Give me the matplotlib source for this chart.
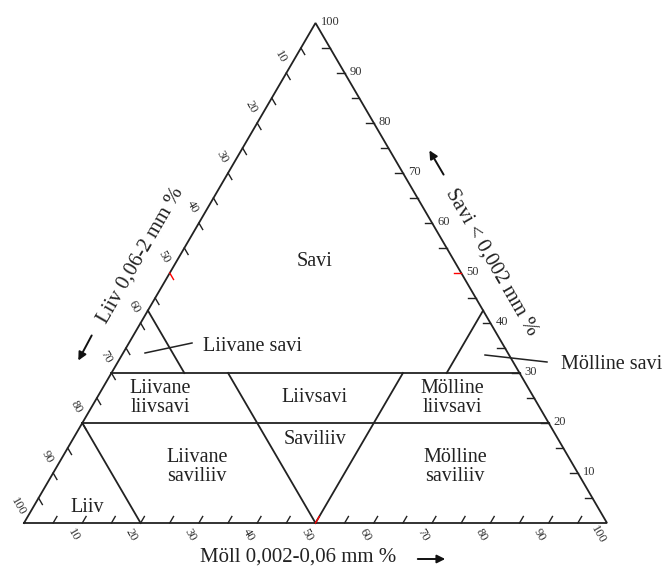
import matplotlib.pyplot as plt

plt.rcParams['font.family'] = ['Liberation Serif', 'DejaVu Serif']

# ticks (every 5) and labels (every 10) on all three sides
tick_vals = list(range(5, 100, 5))
label_vals = list(range(10, 101, 10))

# class boundaries, given as (Möll %, Savi %) end points
bound_savi30 = [(0, 30), (70, 30)]
bound_savi20 = [(0, 20), (80, 20)]
bound_liiv80 = [(20, 0), (0, 20)]
bound_liiv50 = [(50, 0), (20, 30)]
bound_moll50 = [(50, 0), (50, 30)]
bound_liiv575 = [(0, 42.5), (12.5, 30)]
bound_moll575 = [(57.5, 42.5), (57.5, 30)]
boundaries = [bound_savi30, bound_savi20, bound_liiv80, bound_liiv50,
              bound_moll50, bound_liiv575, bound_moll575]

# class names and where they sit (pixel positions in the 669x567 picture)
class_names = ['Savi', 'Liivane savi', 'Mölline savi', 'Liivane\nliivsavi', 'Liivsavi',
               'Mölline\nliivsavi', 'Saviliiv', 'Liiv', 'Liivane\nsaviliiv', 'Mölline\nsaviliiv']
class_pos = [(315, 262), (253, 347), (612, 365), (160, 398), (315, 398),
             (452, 398), (315, 440), (87, 508), (197, 467), (455, 467)]

# pixel mapping of the figure: left corner x, base y, px per unit
X0, YB, XS, YS = 24, 523, 5.83, 5.0


def tern(m, c):
    # Möll / Savi -> plot coordinates
    return m + c / 2.0, c


def px(x, y):
    # picture pixel -> plot coordinates
    return (x - X0) / XS, (YB - y) / YS


fig = plt.figure(figsize=(6.69, 5.67), dpi=100)
ax = fig.add_axes([0, 0, 1, 1])
ax.set_xlim(px(0, 0)[0], px(669, 0)[0])
ax.set_ylim(px(0, 567)[1], px(0, 0)[1])
ax.axis('off')

lw = 1.3
# outer triangle
corners = [tern(0, 0), tern(100, 0), tern(0, 100), tern(0, 0)]
ax.plot([p[0] for p in corners], [p[1] for p in corners], color='#222222', lw=lw,
        solid_joinstyle='miter')

for seg in boundaries:
    a, b = tern(*seg[0]), tern(*seg[1])
    ax.plot([a[0], b[0]], [a[1], b[1]], color='#222222', lw=lw)

# ticks
t = 1.3
for v in tick_vals:
    col = 'red' if v == 50 else '#222222'
    # bottom (Möll)
    a, b = tern(v, 0), tern(v, t)
    ax.plot([a[0], b[0]], [a[1], b[1]], color=col, lw=1.0)
    # left (Liiv)
    a, b = tern(0, 100 - v), tern(t, 100 - v - t)
    ax.plot([a[0], b[0]], [a[1], b[1]], color=col, lw=1.0)
    # right (Savi)
    a, b = tern(100 - v, v), tern(100 - v - t, v)
    ax.plot([a[0], b[0]], [a[1], b[1]], color=col, lw=1.0)

for v in label_vals:
    ax.annotate(str(v), tern(v, 0), xytext=(-9, -12), textcoords='offset pixels',
                rotation=-60, ha='center', va='center', fontsize=9, color='#333333')
    ax.annotate(str(v), tern(0, 100 - v), xytext=(-6, 16), textcoords='offset pixels',
                rotation=-60, ha='center', va='center', fontsize=9, color='#333333')
    ax.annotate(str(v), tern(100 - v, v), xytext=(5, 1), textcoords='offset pixels',
                ha='left', va='center', fontsize=9, color='#333333')

# class names
for name, (x, y) in zip(class_names, class_pos):
    ax.text(*px(x, y), name, ha='center', va='center', fontsize=14.5,
            color='#222222', linespacing=1.05)

# leader lines
for p, q in [((145, 353), (192, 343)), ((485, 355), (547, 362))]:
    a, b = px(*p), px(*q)
    ax.plot([a[0], b[0]], [a[1], b[1]], color='#222222', lw=1.1)

# axis titles
ax.text(*px(141, 255), 'Liiv 0,06-2 mm %', rotation=60, ha='center', va='center',
        fontsize=15, color='#222222', rotation_mode='anchor')
ax.text(*px(492, 262), 'Savi < 0,002 mm %', rotation=-60, ha='center', va='center',
        fontsize=15, color='#222222', rotation_mode='anchor')
ax.text(*px(298, 557), 'Möll 0,002-0,06 mm %', ha='center', va='center',
        fontsize=15, color='#222222')

# direction arrows
arrow = dict(arrowstyle='-|>', color='#111111', lw=1.4, mutation_scale=12)
for tail, tip in [((93, 333), (77, 363)), ((445, 177), (428, 148)), ((415, 559), (448, 559))]:
    ax.annotate('', xy=px(*tip), xytext=px(*tail), arrowprops=arrow)

fig.savefig('out.png', dpi=100)
